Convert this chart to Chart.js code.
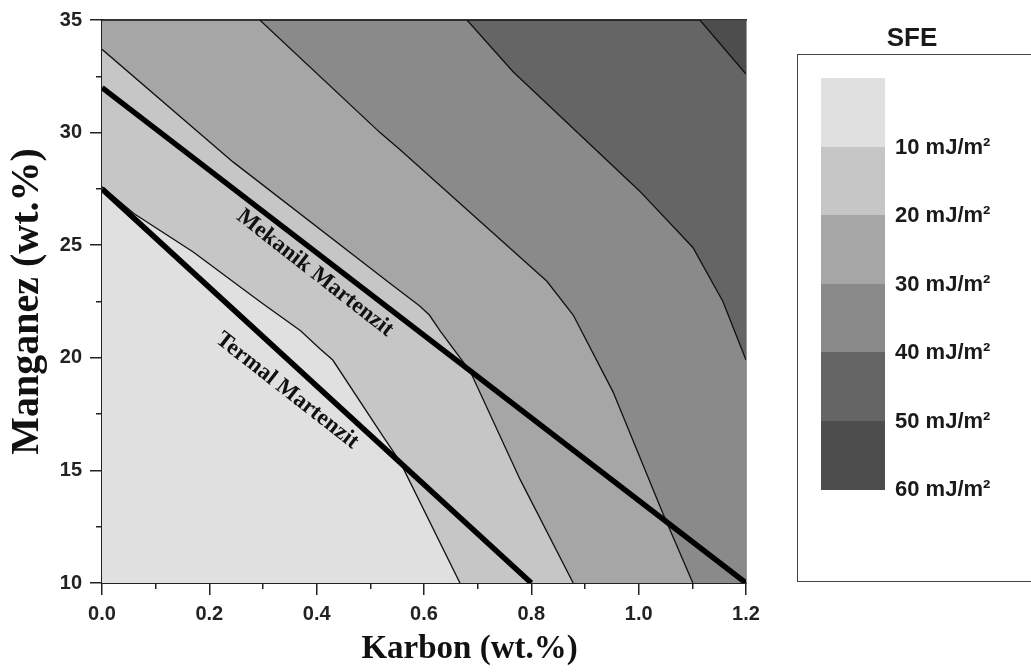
<!DOCTYPE html>
<html>
<head>
<meta charset="utf-8">
<script src="https://cdn.jsdelivr.net/npm/chart.js@4.4.1/dist/chart.umd.min.js"></script>
<style>
  body { margin: 0; background: #fff; }
  #wrap { position: relative; width: 1031px; height: 672px; overflow: hidden; }
  #sfeTitle { position: absolute; left: 862px; width: 100px; top: 22px; text-align: center;
    font: bold 26px "Liberation Sans", Arial, sans-serif; color: #1a1a1a; }
  #sfeBox { position: absolute; left: 797px; top: 54px; width: 260px; height: 528px;
    border: 1.5px solid #444; box-sizing: border-box; }
  .sw { position: absolute; left: 821px; width: 64px; }
  .lb { position: absolute; left: 895px; font: bold 22px "Liberation Sans", Arial, sans-serif;
    color: #1a1a1a; line-height: 24px; white-space: nowrap; }
</style>
</head>
<body>
<div id="wrap">
  <canvas id="grafik" width="1031" height="672"></canvas>
  <div id="sfeTitle">SFE</div>
  <div id="sfeBox"></div>
</div>
<script>
// SFE bands, lightest (<10) to darkest (50-60)
const sfeLabels = ['10 mJ/m²', '20 mJ/m²', '30 mJ/m²', '40 mJ/m²', '50 mJ/m²', '60 mJ/m²'];
const bandColors = ['#e0e0e0', '#c6c6c6', '#a6a6a6', '#8a8a8a', '#656565', '#4d4d4d'];

// axis ticks
const xMajor = [0, 0.2, 0.4, 0.6, 0.8, 1.0, 1.2];
const xMinor = [0.1, 0.3, 0.5, 0.7, 0.9, 1.1];
const yMajor = [10, 15, 20, 25, 30, 35];
const yMinor = [12.5, 17.5, 22.5, 27.5, 32.5];

// contour lines (Karbon -> Manganez)
const c10X = [0, 0.06, 0.17, 0.294, 0.37, 0.406, 0.43, 0.524, 0.555, 0.667];
const c10Y = [27.6, 26.4, 24.7, 22.5, 21.2, 20.4, 19.9, 16.5, 15.4, 10];
const c20X = [0, 0.244, 0.537, 0.592, 0.61, 0.63, 0.686, 0.779, 0.878];
const c20Y = [33.7, 28.7, 23.3, 22.3, 21.9, 21.2, 19.4, 14.6, 10];
const c30X = [0, 0.294, 0.518, 0.555, 0.829, 0.878, 0.952, 1.045, 1.101];
const c30Y = [35, 35, 30.0, 29.25, 23.4, 21.9, 18.5, 13.1, 10];
const c40X = [0, 0.68, 0.766, 1.002, 1.101, 1.157, 1.2];
const c40Y = [35, 35, 32.7, 27.4, 24.9, 22.5, 19.9];
const c50X = [0, 1.114, 1.2];
const c50Y = [35, 35, 32.6];
const topX = [0, 1.2];
const topY = [35, 35];

// martensite boundaries
const mekanikX = [0, 1.2];
const mekanikY = [32, 10];
const termalX = [0, 0.8];
const termalY = [27.5, 10];

const notes = [
  { text: 'Mekanik Martenzit', x: 0.397, y: 23.76, angle: 38 },
  { text: 'Termal Martenzit', x: 0.345, y: 18.54, angle: 38 }
];

function pts(xs, ys) { return xs.map((x, i) => ({ x: x, y: ys[i] })); }

// legend
const box = document.getElementById('wrap');
bandColors.forEach((c, i) => {
  const sw = document.createElement('div');
  sw.className = 'sw';
  sw.style.top = (78 + i * 68.5) + 'px';
  sw.style.height = '69px';
  sw.style.background = c;
  box.appendChild(sw);
  const lb = document.createElement('div');
  lb.className = 'lb';
  lb.style.top = (78 + (i + 1) * 68.5 - 12) + 'px';
  lb.textContent = sfeLabels[i];
  box.appendChild(lb);
});

function band(xs, ys, color) {
  return { data: pts(xs, ys), fill: 'start', backgroundColor: color, borderColor: '#111',
    borderWidth: 1.3, pointRadius: 0, tension: 0 };
}

const serif = '"Liberation Serif", "Times New Roman", serif';

// rotated labels along the martensite lines + x axis title (sits right of centre in the original)
const notePlugin = {
  id: 'notes',
  afterDatasetsDraw(chart) {
    const ctx = chart.ctx;
    notes.forEach(n => {
      const px = chart.scales.x.getPixelForValue(n.x);
      const py = chart.scales.y.getPixelForValue(n.y);
      ctx.save();
      ctx.translate(px, py);
      ctx.rotate(n.angle * Math.PI / 180);
      ctx.font = 'bold 23px ' + serif;
      ctx.fillStyle = '#111';
      ctx.textAlign = 'center';
      ctx.textBaseline = 'middle';
      ctx.fillText(n.text, 0, 0);
      ctx.restore();
    });
  },
  afterDraw(chart) {
    const ctx = chart.ctx;
    const xs = chart.scales.x;
    ctx.save();
    ctx.font = 'bold 33px ' + serif;
    ctx.fillStyle = '#111';
    ctx.textAlign = 'center';
    ctx.textBaseline = 'middle';
    ctx.fillText('Karbon (wt.%)', xs.getPixelForValue(0.685), xs.bottom - 23);
    ctx.restore();
  }
};

const tickFont = { family: '"Liberation Sans", Arial, sans-serif', size: 20, weight: 'bold' };

new Chart(document.getElementById('grafik'), {
  type: 'line',
  data: {
    datasets: [
      { data: pts(mekanikX, mekanikY), borderColor: '#000', borderWidth: 5.5, pointRadius: 0, fill: false },
      { data: pts(termalX, termalY), borderColor: '#000', borderWidth: 5.5, pointRadius: 0, fill: false },
      band(c10X, c10Y, bandColors[0]),
      band(c20X, c20Y, bandColors[1]),
      band(c30X, c30Y, bandColors[2]),
      band(c40X, c40Y, bandColors[3]),
      band(c50X, c50Y, bandColors[4]),
      { data: pts(topX, topY), fill: 'start', backgroundColor: bandColors[5], borderWidth: 0, pointRadius: 0 }
    ]
  },
  options: {
    responsive: false,
    animation: false,
    layout: { padding: 0 },
    plugins: { legend: { display: false }, tooltip: { enabled: false } },
    scales: {
      x: {
        type: 'linear', position: 'bottom', weight: 1, min: 0, max: 1.2,
        afterBuildTicks: s => { s.ticks = xMajor.map(v => ({ value: v })); },
        afterFit: s => { s.height = 89; },
        ticks: { callback: v => v.toFixed(1), font: tickFont, color: '#222', padding: 7, maxRotation: 0, autoSkip: false },
        grid: { drawOnChartArea: false, drawTicks: true, tickLength: 12, color: '#222', lineWidth: 1.5 },
        border: { display: true, color: '#222', width: 2 }
      },
      xm: {
        type: 'linear', position: 'bottom', weight: 0, min: 0, max: 1.2,
        afterBuildTicks: s => { s.ticks = xMinor.map(v => ({ value: v })); },
        afterFit: s => { s.height = 0; },
        ticks: { display: false },
        grid: { drawOnChartArea: false, drawTicks: true, tickLength: 6, color: '#222', lineWidth: 1.5 },
        border: { display: false }
      },
      xt: {
        type: 'linear', position: 'top', min: 0, max: 1.2,
        afterFit: s => { s.height = 18; },
        ticks: { display: false },
        grid: { drawOnChartArea: false, drawTicks: false },
        border: { display: true, color: '#333', width: 1.5 }
      },
      y: {
        type: 'linear', position: 'left', weight: 1, min: 10, max: 35,
        afterBuildTicks: s => { s.ticks = yMajor.map(v => ({ value: v })); },
        afterFit: s => { s.width = 102; },
        ticks: { font: tickFont, color: '#222', padding: 8 },
        grid: { drawOnChartArea: false, drawTicks: true, tickLength: 12, color: '#222', lineWidth: 1.5 },
        border: { display: true, color: '#222', width: 2 },
        title: { display: true, text: 'Manganez (wt.%)', font: { family: serif, size: 40, weight: 'bold' }, color: '#111', padding: { top: 4, bottom: 0 } }
      },
      ym: {
        type: 'linear', position: 'left', weight: 0, min: 10, max: 35,
        afterBuildTicks: s => { s.ticks = yMinor.map(v => ({ value: v })); },
        afterFit: s => { s.width = 0; },
        ticks: { display: false },
        grid: { drawOnChartArea: false, drawTicks: true, tickLength: 6, color: '#222', lineWidth: 1.5 },
        border: { display: false }
      },
      yr: {
        type: 'linear', position: 'right', min: 10, max: 35,
        afterFit: s => { s.width = 285; },
        ticks: { display: false },
        grid: { drawOnChartArea: false, drawTicks: false },
        border: { display: true, color: '#333', width: 1.5 }
      }
    }
  },
  plugins: [notePlugin]
});
</script>
</body>
</html>
